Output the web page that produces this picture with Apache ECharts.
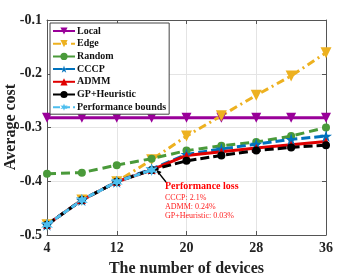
<!DOCTYPE html>
<html><head><meta charset="utf-8">
<script src="https://cdn.jsdelivr.net/npm/echarts@6/dist/echarts.min.js"></script>
<style>html,body{margin:0;padding:0;background:#fff}#c{width:360px;height:277px}</style>
</head><body><div id="c"></div>
<script>
const devices = ['4','8','12','16','20','24','28','32','36'];
const yTicks = [-0.5,-0.4,-0.3,-0.2,-0.1];
const local   = [-0.282,-0.282,-0.282,-0.282,-0.282,-0.282,-0.282,-0.282,-0.282];
const edge    = [-0.481,-0.435,-0.401,-0.360,-0.316,-0.278,-0.240,-0.204,-0.161];
const random  = [-0.386,-0.384,-0.370,-0.358,-0.343,-0.334,-0.327,-0.316,-0.300];
const cccp    = [-0.481,-0.435,-0.401,-0.377,-0.350,-0.340,-0.331,-0.322,-0.316];
const admm    = [-0.481,-0.435,-0.401,-0.379,-0.352,-0.345,-0.338,-0.332,-0.326];
const gp      = [-0.481,-0.435,-0.401,-0.379,-0.362,-0.352,-0.343,-0.337,-0.333];
const bounds  = [-0.481,-0.435,-0.401,-0.379,null,null,null,null,null];
const annot = ['Performance loss','CCCP: 2.1%','ADMM: 0.24%','GP+Heuristic: 0.03%'];
const yName = 'Average cost';
const xName = 'The number of devices';

const STAR5 = 'path://M50 0 L61.17 34.63 L97.55 34.55 L68.07 55.87 L79.39 90.45 L50 69 L20.61 90.45 L31.93 55.87 L2.45 34.55 L38.83 34.63 Z';
const STAR6 = 'path://M50 0 L61 30.95 L93.3 25 L72 50 L93.3 75 L61 69.05 L50 100 L39 69.05 L6.7 75 L28 50 L6.7 25 L39 30.95 Z';
const F = 'Liberation Serif';

function s(name, data, color, opt) {
  return {
    name, type:'line', data, showSymbol:true, connectNulls:false,
    lineStyle:{color, width:3, type:opt.type||'solid'},
    itemStyle:{color},
    symbol:opt.symbol, symbolSize:opt.size, symbolRotate:opt.rot||0,
    z:opt.z||2, animation:false
  };
}
const chart = echarts.init(document.getElementById('c'), null, {renderer:'canvas'});
const opt = {
  animation:false,
  grid:{left:47,right:34,top:20,bottom:42, containLabel:false, outerBoundsMode:'none'},
  legend:{
    left:50, top:23, orient:'vertical', itemWidth:22, itemHeight:9, itemGap:2.7,
    padding:[3,3,2,2], backgroundColor:'#fff', borderColor:'#444', borderWidth:1,
    textStyle:{fontFamily:F, fontWeight:'bold', fontSize:10, lineHeight:10, color:'#111', padding:[0,0,0,-3]},
    data:['Local','Edge','Random','CCCP','ADMM','GP+Heuristic','Performance bounds']
  },
  xAxis:[{
    type:'category', data:devices, boundaryGap:false,
    name:xName, nameLocation:'middle', nameGap:26,
    nameTextStyle:{fontFamily:F, fontWeight:'bold', fontSize:16, color:'#222'},
    axisLine:{lineStyle:{color:'#555', width:1}},
    axisTick:{inside:true, interval:1, length:4, lineStyle:{color:'#555'}},
    axisLabel:{interval:1, fontFamily:F, fontWeight:'bold', fontSize:14, color:'#222', margin:6},
    splitLine:{show:true, interval:1, lineStyle:{color:'#e4e4e4', width:1}}
  },{
    type:'category', data:devices, boundaryGap:false, position:'top',
    axisLine:{lineStyle:{color:'#555', width:1}},
    axisTick:{inside:true, interval:1, length:4, lineStyle:{color:'#555'}},
    axisLabel:{show:false}, splitLine:{show:false}
  }],
  yAxis:[{
    type:'value', min:yTicks[0], max:yTicks[yTicks.length-1], interval:0.1,
    axisLine:{show:true, lineStyle:{color:'#555', width:1}},
    axisTick:{show:true, inside:true, length:4, lineStyle:{color:'#555'}},
    axisLabel:{fontFamily:F, fontWeight:'bold', fontSize:14, color:'#222', margin:5,
      formatter:v=>String(Math.round(v*10)/10)},
    splitLine:{show:true, lineStyle:{color:'#e4e4e4', width:1}}
  },{
    type:'value', min:yTicks[0], max:yTicks[yTicks.length-1], interval:0.1, position:'right',
    axisLine:{show:true, lineStyle:{color:'#555', width:1}},
    axisTick:{show:true, inside:true, length:4, lineStyle:{color:'#555'}},
    axisLabel:{show:false}, splitLine:{show:false}
  }],
  series:[
    s('Local', local, '#990099', {symbol:'triangle', size:10, rot:180}),
    s('Edge', edge, '#EDB120', {symbol:'triangle', size:11, rot:180, type:[8,4,2,4]}),
    s('Random', random, '#4A9A3A', {symbol:'circle', size:8, type:[9,5]}),
    s('CCCP', cccp, '#0072BD', {symbol:STAR5, size:12, type:[9,4]}),
    s('ADMM', admm, '#E00000', {symbol:'triangle', size:8}),
    s('GP+Heuristic', gp, '#000000', {symbol:'circle', size:8, type:[9,4]}),
    s('Performance bounds', bounds, '#4DBEEE', {symbol:STAR6, size:12, type:[7,3], z:3})
  ],
  graphic:[
    {type:'text', x:11, y:127, rotation:Math.PI/2,
     style:{text:yName, fill:'#222', font:'bold 16px "Liberation Serif"', align:'center', verticalAlign:'middle'}, z:10},
    {type:'line', shape:{x1:166,y1:182,x2:158,y2:172}, style:{stroke:'#000', lineWidth:1.3}, z:10},
    {type:'polygon', shape:{points:[[156,169.5],[161.5,172],[158.5,175]]}, style:{fill:'#000'}, z:10},
    {type:'text', left:165, top:181, style:{text:annot[0], fill:'#ff0000', font:'bold 10px "Liberation Serif"'}, z:10},
    {type:'text', left:165, top:194, style:{text:annot[1], fill:'#ff2020', font:'8px "Liberation Serif"'}, z:10},
    {type:'text', left:165, top:203, style:{text:annot[2], fill:'#ff2020', font:'8px "Liberation Serif"'}, z:10},
    {type:'text', left:165, top:212, style:{text:annot[3], fill:'#ff2020', font:'8px "Liberation Serif"'}, z:10}
  ]
};
chart.setOption(opt);
</script></body></html>
